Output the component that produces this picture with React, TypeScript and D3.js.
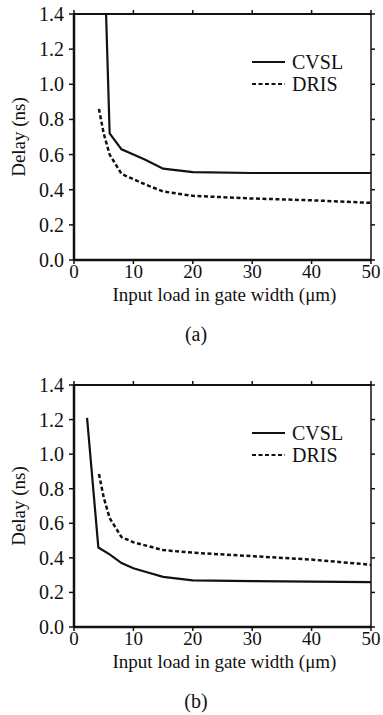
import { useEffect, useRef } from 'react'
import * as d3 from 'd3'

// Panel (a)
const loadA_cvsl = [5.4, 6, 8, 10, 12, 15, 20, 30, 40, 50]
const delayA_cvsl = [1.4, 0.72, 0.63, 0.6, 0.57, 0.52, 0.5, 0.495, 0.495, 0.495]
const loadA_dris = [4.2, 5, 6, 8, 10, 12, 15, 20, 30, 40, 50]
const delayA_dris = [0.86, 0.72, 0.6, 0.49, 0.46, 0.43, 0.39, 0.365, 0.35, 0.34, 0.325]

// Panel (b)
const loadB_cvsl = [2.2, 4.1, 6, 8, 10, 12, 15, 20, 30, 40, 50]
const delayB_cvsl = [1.21, 0.46, 0.42, 0.37, 0.34, 0.32, 0.29, 0.27, 0.265, 0.263, 0.26]
const loadB_dris = [4.2, 5, 6, 8, 10, 15, 20, 30, 40, 50]
const delayB_dris = [0.885, 0.75, 0.63, 0.52, 0.49, 0.445, 0.43, 0.41, 0.39, 0.36]

const xTicks = [0, 10, 20, 30, 40, 50]
const yTicks = [0, 0.2, 0.4, 0.6, 0.8, 1.0, 1.2, 1.4]
const seriesNames = ['CVSL', 'DRIS']

const FONT = "'Liberation Serif', 'Times New Roman', Tinos, 'DejaVu Serif', serif"

const panels = [
  { label: '(a)', top: 14, bottom: 260, cvsl: [loadA_cvsl, delayA_cvsl], dris: [loadA_dris, delayA_dris] },
  { label: '(b)', top: 385, bottom: 627, cvsl: [loadB_cvsl, delayB_cvsl], dris: [loadB_dris, delayB_dris] },
]

const App = () => {
  const ref = useRef<HTMLDivElement>(null)

  useEffect(() => {
    if (!ref.current) return
    ref.current.innerHTML = ''

    const svg = d3
      .select(ref.current)
      .append('svg')
      .attr('width', 383)
      .attr('height', 715)
      .attr('font-family', FONT)
      .style('display', 'block')
      .style('background', '#fff')

    const left = 74
    const right = 371

    const txt = (g: any, size: number) =>
      g.append('text').attr('font-family', FONT).attr('font-size', size).attr('fill', '#111')

    panels.forEach((p, idx) => {
      const x = d3.scaleLinear().domain([0, 50]).range([left, right])
      const y = d3.scaleLinear().domain([0, 1.4]).range([p.bottom, p.top])

      const g = svg.append('g')
      const clipId = `clip-${idx}`
      g.append('clipPath')
        .attr('id', clipId)
        .append('rect')
        .attr('x', left)
        .attr('y', p.top)
        .attr('width', right - left)
        .attr('height', p.bottom - p.top)

      // frame
      g.append('rect')
        .attr('x', left)
        .attr('y', p.top)
        .attr('width', right - left)
        .attr('height', p.bottom - p.top)
        .attr('fill', 'none')
        .attr('stroke', '#111')
        .attr('stroke-width', 1.5)
      g.append('line')
        .attr('x1', left).attr('x2', left)
        .attr('y1', p.top).attr('y2', p.bottom)
        .attr('stroke', '#111').attr('stroke-width', 2.5)
      g.append('line')
        .attr('x1', left).attr('x2', right)
        .attr('y1', p.bottom).attr('y2', p.bottom)
        .attr('stroke', '#111').attr('stroke-width', 2.5)
      g.append('line')
        .attr('x1', left).attr('x2', right)
        .attr('y1', p.top).attr('y2', p.top)
        .attr('stroke', '#111').attr('stroke-width', 2)

      // x ticks (bottom + top, outward)
      xTicks.forEach((t) => {
        g.append('line')
          .attr('x1', x(t)).attr('x2', x(t))
          .attr('y1', p.bottom).attr('y2', p.bottom + 4)
          .attr('stroke', '#111').attr('stroke-width', 1.5)
        g.append('line')
          .attr('x1', x(t)).attr('x2', x(t))
          .attr('y1', p.top).attr('y2', p.top - 4)
          .attr('stroke', '#111').attr('stroke-width', 1.5)
        txt(g, 19)
          .attr('x', x(t))
          .attr('y', p.bottom + 18)
          .attr('text-anchor', 'middle')
          .text(String(t))
      })

      // y ticks (left + right, outward)
      yTicks.forEach((t) => {
        g.append('line')
          .attr('x1', left).attr('x2', left - 5)
          .attr('y1', y(t)).attr('y2', y(t))
          .attr('stroke', '#111').attr('stroke-width', 1.5)
        g.append('line')
          .attr('x1', right).attr('x2', right + 4)
          .attr('y1', y(t)).attr('y2', y(t))
          .attr('stroke', '#111').attr('stroke-width', 1.5)
        txt(g, 20)
          .attr('x', 64)
          .attr('y', y(t) + 7)
          .attr('text-anchor', 'end')
          .text(t.toFixed(1))
      })

      // axis titles
      txt(g, 19)
        .attr('transform', `translate(25,${(p.top + p.bottom) / 2}) rotate(-90)`)
        .attr('text-anchor', 'middle')
        .text('Delay (ns)')
      txt(g, 19)
        .attr('x', (left + right) / 2 + 2)
        .attr('y', p.bottom + 41)
        .attr('text-anchor', 'middle')
        .text('Input load in gate width (μm)')
      txt(g, 20)
        .attr('x', 196)
        .attr('y', p.bottom + 81)
        .attr('text-anchor', 'middle')
        .text(p.label)

      const line = d3
        .line<[number, number]>()
        .x((d) => x(d[0]))
        .y((d) => y(d[1]))

      const cvslPts = p.cvsl[0].map((v, i) => [v, p.cvsl[1][i]] as [number, number])
      const drisPts = p.dris[0].map((v, i) => [v, p.dris[1][i]] as [number, number])

      g.append('path')
        .datum(drisPts)
        .attr('d', line)
        .attr('clip-path', `url(#${clipId})`)
        .attr('fill', 'none')
        .attr('stroke', '#111')
        .attr('stroke-width', 2.5)
        .attr('stroke-dasharray', '4,2.5')
      g.append('path')
        .datum(cvslPts)
        .attr('d', line)
        .attr('clip-path', `url(#${clipId})`)
        .attr('fill', 'none')
        .attr('stroke', '#111')
        .attr('stroke-width', 2.2)

      // legend
      const ly = p.top + 48
      seriesNames.forEach((name, i) => {
        const yy = ly + i * 22
        g.append('line')
          .attr('x1', 252).attr('x2', 285)
          .attr('y1', yy).attr('y2', yy)
          .attr('stroke', '#111')
          .attr('stroke-width', i === 0 ? 2.2 : 2)
          .attr('stroke-dasharray', i === 0 ? null : '4,2.5')
        txt(g, 20)
          .attr('x', 292)
          .attr('y', yy + 7)
          .text(name)
      })
    })
  }, [])

  return <div ref={ref} style={{ position: 'absolute', left: 0, top: 0 }} />
}

export default App
